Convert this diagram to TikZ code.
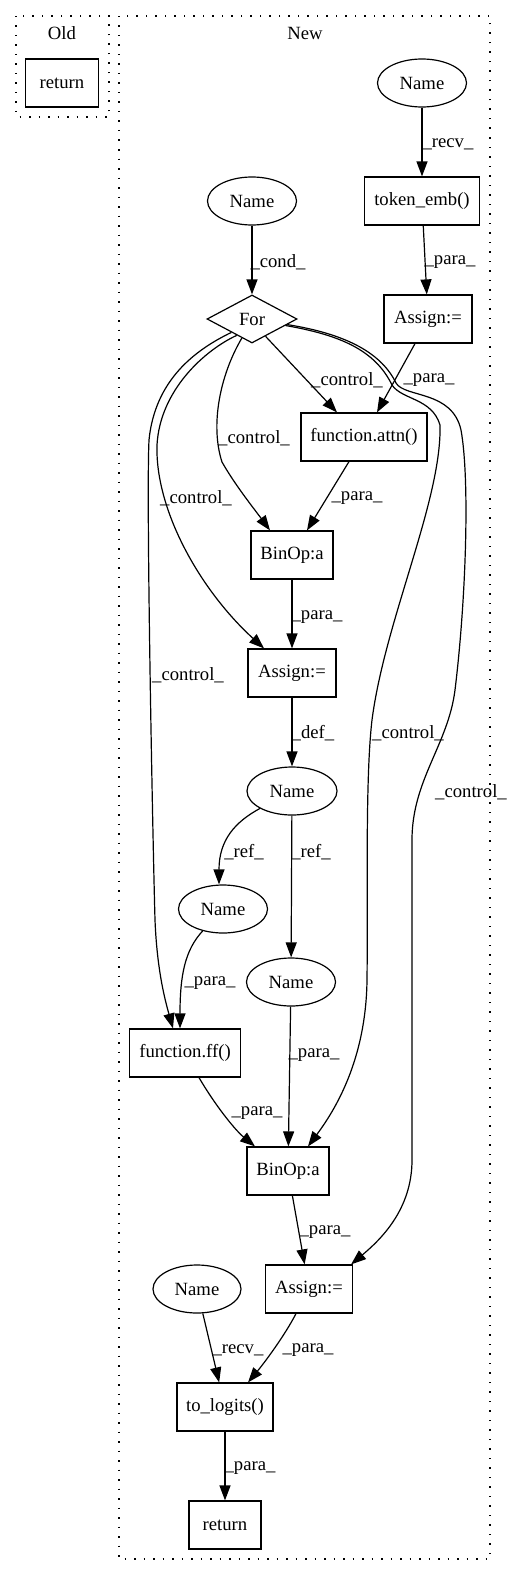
\documentclass[tikz,border=0pt]{standalone}
\usepackage{fontspec}
\setmainfont{Liberation Serif}
\usetikzlibrary{shapes.geometric,arrows.meta}
\begin{document}
\begin{tikzpicture}[x=1pt,y=-1pt,
  every node/.style={font=\fontsize{18.67}{22}\selectfont},
  box/.style={draw, rectangle, line width=1.2pt, inner sep=0pt, minimum height=48pt},
  ell/.style={draw, ellipse, line width=1.2pt, inner sep=0pt, minimum height=48pt, minimum width=89pt},
  dia/.style={draw, diamond, line width=1.2pt, inner sep=0pt, minimum width=90pt, minimum height=48pt},
  edge/.style={line width=1.2pt, -{Triangle[length=15pt,width=11pt]}},
  lbl/.style={inner sep=0pt},
  cluster/.style={line width=1.3pt, dash pattern=on 1.5pt off 8pt}]
\useasboundingbox (0,0) rectangle (510,1576);
\draw[cluster] (16,16) rectangle (109,117);
\draw[cluster] (119,16) rectangle (490,1559);

\node[lbl] (oldlbl) at (62,33) {Old};
\node[box, minimum width=73pt] (oldret) at (62,83) {return};
\node[lbl] (newlbl) at (305,33) {New};
\node[ell] (n1) at (422,83) {Name};
\node[box, minimum width=115pt] (tok) at (422,201) {token\_emb()};
\node[ell] (n2) at (252,201) {Name};
\node[dia] (for) at (252,319) {For};
\node[box, minimum width=88pt] (a1) at (428,319) {Assign:=};
\node[box, minimum width=126pt] (attn) at (364,437) {function.attn()};
\node[box, minimum width=82pt] (b1) at (292,555) {BinOp:a};
\node[box, minimum width=88pt] (a2) at (292,673) {Assign:=};
\node[ell, minimum width=90pt] (n3) at (292,791) {Name};
\node[ell] (n4) at (223,909) {Name};
\node[ell] (n5) at (291,982) {Name};
\node[box, minimum width=111pt] (ff) at (185,1053) {function.ff()};
\node[box, minimum width=82pt] (b2) at (288,1171) {BinOp:a};
\node[box, minimum width=87pt] (a3) at (309,1289) {Assign:=};
\node[ell, minimum width=88pt] (n6) at (197,1289) {Name};
\node[box, minimum width=96pt] (lg) at (225,1407) {to\_logits()};
\node[box, minimum width=72pt] (ret) at (225,1525) {return};

% edges
\draw[edge] (n1) -- (tok);
\draw[edge] (n2) -- (for);
\draw[edge] (tok) -- (a1);
\draw[edge] (for.-52) -- ([xshift=-27pt]attn.north);
\draw[edge] ([xshift=-13pt]a1.south) -- ([xshift=13pt]attn.north);
\draw[edge] (for.242) .. controls (220,375) and (210,425) .. (222,462)
  .. controls (235,485) and (255,510) .. ([xshift=-22pt]b1.north);
\draw[edge] ([xshift=-15pt]attn.south) -- ([xshift=15pt]b1.north);
\draw[edge] (for.227) .. controls (205,350) and (160,390) .. (157,445)
  .. controls (155,510) and (200,590) .. ([xshift=-28pt]a2.north);
\draw[edge] (b1) -- (a2);
\draw[edge] (for.213) .. controls (195,350) and (155,380) .. (149,440)
  .. controls (146,500) and (153,850) .. (155,920)
  .. controls (157,970) and (165,1000) .. ([xshift=-12pt]ff.north);
\draw[edge] (for.-11) .. controls (340,335) and (375,350) .. (392,385)
  .. controls (402,400) and (432,398) .. (440,425)
  .. controls (442,500) and (385,620) .. (372,720)
  .. controls (365,780) and (368,900) .. (367,980)
  .. controls (366,1060) and (335,1110) .. ([xshift=20pt]b2.north);
\draw[edge] (for.-9) .. controls (340,333) and (380,350) .. (396,383)
  .. controls (405,398) and (452,390) .. (461,430)
  .. controls (470,480) and (466,600) .. (455,690)
  .. controls (448,745) and (412,780) .. (412,840)
  -- (412,1160)
  .. controls (412,1210) and (380,1240) .. ([xshift=-2pt]a3.north east);
\draw[edge] (a2) -- (n3);
\draw[edge] (n3) .. controls (235,822) and (219,840) .. ([xshift=-4pt]n4.north);
\draw[edge] (n3) -- (n5);
\draw[edge] (n4) .. controls (185,950) and (180,975) .. ([xshift=-5pt]ff.north);
\draw[edge] (n5) -- (b2);
\draw[edge] ([xshift=14pt]ff.south) .. controls (215,1105) and (235,1130) .. ([xshift=-33pt]b2.north);
\draw[edge] (b2) -- (a3);
\draw[edge] (n6) -- (lg);
\draw[edge] ([xshift=-13pt]a3.south) .. controls (285,1335) and (265,1362) .. ([xshift=23pt]lg.north);
\draw[edge] (lg) -- (ret);

% labels
\node[lbl] (l1) at (448,144) {\_recv\_};
\node[lbl] (l2) at (278,262) {\_cond\_};
\node[lbl] (l3) at (450,262) {\_para\_};
\node[lbl] (l4) at (347,380) {\_control\_};
\node[lbl] (l5) at (429,380) {\_para\_};
\node[lbl] (l6) at (254,438) {\_control\_};
\node[lbl] (l7) at (196,498) {\_control\_};
\node[lbl] (l8) at (357,498) {\_para\_};
\node[lbl] (l9) at (317,617) {\_para\_};
\node[lbl] (l10) at (188,675) {\_control\_};
\node[lbl] (l11) at (313,733) {\_def\_};
\node[lbl] (l12) at (408,733) {\_control\_};
\node[lbl] (l13) at (471,792) {\_control\_};
\node[lbl] (l14) at (244,852) {\_ref\_};
\node[lbl] (l15) at (311,852) {\_ref\_};
\node[lbl] (l16) at (210,983) {\_para\_};
\node[lbl] (l17) at (314,1055) {\_para\_};
\node[lbl] (l18) at (257,1113) {\_para\_};
\node[lbl] (l19) at (325,1232) {\_para\_};
\node[lbl] (l20) at (238,1350) {\_recv\_};
\node[lbl] (l21) at (308,1350) {\_para\_};
\node[lbl] (l22) at (250,1468) {\_para\_};
\end{tikzpicture}
\end{document}
